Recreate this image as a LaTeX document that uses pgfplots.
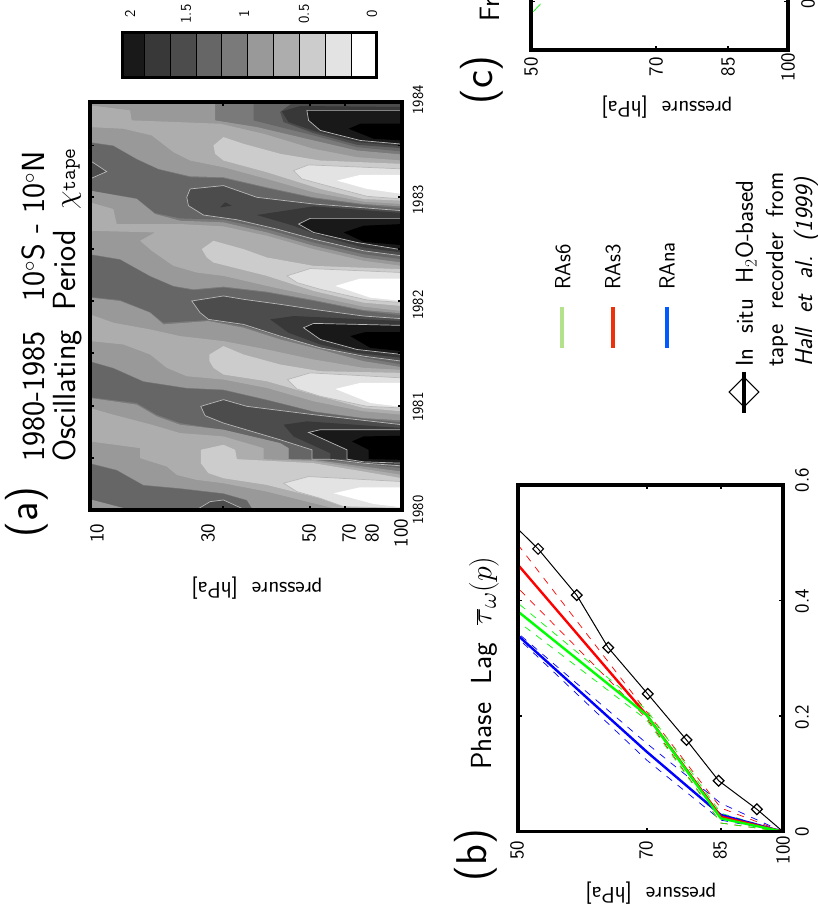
\documentclass[border=0pt]{standalone}
\usepackage{graphicx}
\usepackage{pgfplots}
\pgfplotsset{compat=1.18}
\definecolor{Lz}{gray}{0.0}
\definecolor{La}{gray}{0.1}
\definecolor{Lb}{gray}{0.22}
\definecolor{Lc}{gray}{0.3}
\definecolor{Ld}{gray}{0.4}
\definecolor{Le}{gray}{0.48}
\definecolor{Lf}{gray}{0.6}
\definecolor{Lg}{gray}{0.68}
\definecolor{Lh}{gray}{0.8}
\definecolor{Li}{gray}{0.89}
\definecolor{Lj}{gray}{1.0}
\definecolor{Cline}{gray}{0.72}
\newcommand\fs[1]{\fontsize{#1}{#1}\selectfont\sffamily}
\newcommand\lv[2]{\addplot[fill=#1,draw=none] coordinates {#2} --cycle;}
\newcommand\lc[2]{\addplot[fill=#1,draw=Cline,line width=0.7pt] coordinates {#2} --cycle;}
\pgfplotsset{
  frame/.style={scale only axis,axis line style={line width=3.5pt,black},tick align=inside,
    major tick length=4pt,every tick/.style={black,line width=1.8pt},
    clip=true,axis on top,xticklabels={},yticklabels={}},
}
\begin{document}
\begin{tikzpicture}[x=1pt,y=1pt]
\path[use as bounding box] (0,0) rectangle (817,909);
\clip (0,0) rectangle (817,909);
% ---------- panel (a)
\begin{axis}[frame,at={(90pt,399pt)},anchor=south west,width=312pt,height=408pt,
  xmin=30,xmax=965,ymin=40,ymax=1260,y dir=reverse,
  xtick={428,690,793},
  ytick={40,170,325,480,635,790,948,1105,1260},
]
\lv{Le}{(30,40)(965,40)(965,1262)(30,1262)}
% D1
\lv{Ld}{(520,40)(520,95)(600,115)(700,140)(830,175)(965,188)(965,40)}
\lv{Lc}{(600,70)(640,40)(965,40)(965,178)(830,168)(700,133)(610,100)}
\lv{Lb}{(605,68)(660,52)(965,55)(965,172)(830,160)(705,128)(625,100)}
\lc{La}{(680,65)(965,65)(965,166)(840,155)(720,125)(685,95)}
\lv{Lz}{(805,120)(840,105)(965,105)(965,155)(880,150)}
% L1
\lv{Lf}{(30,40)(405,40)(405,95)(530,115)(700,155)(830,185)(965,197)(965,352)(850,345)(700,325)(560,295)(430,265)(330,262)(235,240)(170,210)(100,170)(30,160)}
\lv{Lg}{(30,50)(150,65)(155,95)(420,105)(550,135)(700,180)(830,205)(965,215)(965,345)(850,338)(700,310)(560,270)(430,235)(330,215)(280,190)(215,140)(130,120)(30,115)}
\lv{Lh}{(400,170)(430,145)(490,165)(600,195)(720,215)(965,225)(965,335)(850,330)(720,300)(560,250)(430,215)(405,195)}
\lc{Li}{(640,245)(685,228)(965,240)(965,330)(860,322)(720,285)(665,270)}
\lv{Lj}{(770,275)(840,258)(965,258)(965,315)(860,300)}
% D2
\lv{Ld}{(30,162)(100,172)(170,212)(235,242)(330,265)(430,268)(560,298)(700,328)(850,348)(965,358)(965,510)(850,495)(700,460)(560,420)(430,392)(300,388)(225,372)(170,328)(30,305)}
\lc{Lc}{(30,215)(80,248)(30,270)}
\lc{Lc}{(330,300)(430,290)(530,325)(700,345)(965,365)(965,500)(850,485)(700,450)(590,420)(470,392)(370,378)(325,350)(320,325)}
\lv{Lb}{(420,355)(435,340)(455,350)}
\lv{Lb}{(530,378)(700,352)(965,372)(965,490)(850,475)(720,440)(640,410)}
\lc{La}{(655,405)(690,388)(965,388)(965,482)(830,460)(700,430)}
\lv{Lz}{(790,430)(850,410)(965,405)(965,468)(850,458)}
% L2
\lv{Lf}{(30,305)(170,330)(225,375)(300,395)(430,400)(560,430)(700,470)(850,505)(965,520)(965,672)(850,662)(700,632)(560,607)(430,592)(340,600)(280,590)(210,560)(120,510)(30,495)}
\lv{Lg}{(30,340)(100,360)(110,405)(300,405)(430,412)(560,440)(700,480)(850,515)(965,530)(965,665)(850,652)(700,620)(560,590)(430,560)(350,550)(280,530)(215,485)(180,455)(225,430)(30,425)}
\lv{Lh}{(365,480)(400,455)(490,480)(560,505)(700,530)(965,540)(965,650)(850,640)(700,605)(560,560)(400,520)(380,505)}
\lc{Li}{(620,560)(690,538)(965,550)(965,640)(860,632)(720,600)(650,580)}
\lv{Lj}{(765,590)(840,568)(965,568)(965,635)(870,625)}
% D3
\lv{Ld}{(30,497)(120,512)(210,562)(280,592)(340,603)(430,595)(560,610)(700,635)(850,665)(965,678)(965,825)(850,805)(720,772)(600,742)(490,710)(385,692)(250,700)(210,668)(120,632)(30,623)}
\lc{Lc}{(335,635)(430,620)(490,630)(600,645)(700,660)(850,680)(965,688)(965,815)(850,800)(720,775)(600,740)(490,705)(385,690)(360,670)}
\lv{Lb}{(570,690)(640,680)(965,695)(965,805)(830,790)(720,765)(625,730)}
\lc{La}{(670,715)(700,702)(965,708)(965,795)(830,780)(720,750)}
\lv{Lz}{(810,740)(855,728)(965,728)(965,785)(870,775)}
% L3
\lv{Lf}{(30,625)(120,635)(210,670)(250,705)(385,695)(490,715)(600,750)(720,780)(850,815)(965,833)(965,992)(850,985)(700,965)(560,930)(430,900)(320,895)(190,875)(100,835)(30,815)}
\lv{Lg}{(30,675)(100,700)(210,720)(300,740)(430,755)(560,780)(700,810)(850,835)(965,841)(965,975)(850,965)(700,935)(560,895)(430,870)(320,860)(260,835)(210,795)(130,765)(30,755)}
\lv{Lh}{(388,795)(430,770)(490,795)(600,825)(720,845)(965,850)(965,965)(850,955)(700,915)(560,875)(430,855)(400,835)(388,815)}
\lc{Li}{(622,870)(690,850)(965,865)(965,955)(860,950)(720,920)(650,898)}
\lv{Lj}{(765,898)(840,880)(965,880)(965,952)(870,940)}
% D4
\lv{Ld}{(30,817)(100,837)(190,877)(320,897)(430,902)(560,932)(700,967)(850,987)(965,998)(965,1135)(850,1122)(695,1108)(625,1108)(625,1075)(600,1060)(430,1020)(300,1000)(230,975)(170,940)(30,923)}
\lc{Lc}{(362,950)(430,930)(500,950)(700,975)(965,1005)(965,1128)(850,1120)(750,1108)(695,1108)(695,1080)(600,1050)(430,1000)(375,978)}
\lv{Lb}{(610,1005)(680,995)(965,1015)(965,1124)(850,1118)(800,1108)(750,1108)(750,1090)(640,1040)}
\lc{La}{(685,1028)(720,1020)(965,1020)(965,1120)(850,1116)(800,1108)(800,1080)}
\lv{Lz}{(815,1055)(850,1040)(965,1038)(965,1110)(865,1108)(865,1080)}
% L4
\lv{Lf}{(30,925)(170,945)(230,980)(300,1005)(430,1020)(600,1060)(625,1075)(625,1108)(700,1110)(850,1130)(965,1145)(965,1262)(520,1262)(500,1230)(430,1210)(300,1195)(190,1185)(110,1140)(30,1120)}
\lv{Lg}{(30,955)(100,975)(215,1005)(300,1030)(430,1040)(550,1075)(550,1108)(700,1114)(850,1137)(965,1155)(965,1262)(790,1262)(700,1240)(560,1205)(430,1180)(350,1170)(290,1155)(260,1130)(180,1105)(180,1075)(30,1055)}
\lv{Lh}{(362,1080)(430,1065)(465,1080)(470,1108)(700,1120)(850,1145)(965,1165)(965,1255)(850,1252)(700,1220)(560,1185)(430,1165)(385,1150)(362,1120)}
\lc{Li}{(610,1180)(685,1160)(965,1175)(965,1255)(790,1250)(720,1225)(650,1205)}
\lv{Lj}{(760,1210)(840,1192)(965,1192)(965,1252)(880,1242)}
% D5
\lv{Ld}{(30,1122)(110,1142)(190,1187)(300,1197)(430,1212)(500,1232)(520,1265)(30,1265)}
\lv{Lf}{(30,1228)(160,1262)(30,1262)}
\lc{Lc}{(345,1262)(390,1235)(430,1230)(500,1262)}
\end{axis}
% ---------- colour bar
\begin{axis}[frame,at={(122pt,831pt)},anchor=south west,width=254.7pt,height=45pt,
  xmin=121.7,xmax=376.7,ymin=0,ymax=1,ytick=\empty,xtick=\empty,
  axis line style={line width=3pt,black}]
\addplot[fill=La,draw=black,line width=1pt] coordinates {(121.7,0)(144,0)(144,1)(121.7,1)} --cycle;
\addplot[fill=Lb,draw=black,line width=1pt] coordinates {(144,0)(170,0)(170,1)(144,1)} --cycle;
\addplot[fill=Lc,draw=black,line width=1pt] coordinates {(170,0)(196,0)(196,1)(170,1)} --cycle;
\addplot[fill=Ld,draw=black,line width=1pt] coordinates {(196,0)(221.7,0)(221.7,1)(196,1)} --cycle;
\addplot[fill=Le,draw=black,line width=1pt] coordinates {(221.7,0)(247.7,0)(247.7,1)(221.7,1)} --cycle;
\addplot[fill=Lf,draw=black,line width=1pt] coordinates {(247.7,0)(273.3,0)(273.3,1)(247.7,1)} --cycle;
\addplot[fill=Lg,draw=black,line width=1pt] coordinates {(273.3,0)(299.3,0)(299.3,1)(273.3,1)} --cycle;
\addplot[fill=Lh,draw=black,line width=1pt] coordinates {(299.3,0)(325.3,0)(325.3,1)(299.3,1)} --cycle;
\addplot[fill=Li,draw=black,line width=1pt] coordinates {(325.3,0)(351,0)(351,1)(325.3,1)} --cycle;
\addplot[fill=Lj,draw=black,line width=1pt] coordinates {(351,0)(376.7,0)(376.7,1)(351,1)} --cycle;
\end{axis}
% ---------- panel (b)
\begin{axis}[frame,at={(518pt,77.3pt)},anchor=south west,width=265pt,height=346.7pt,
  xmode=log,xmin=50,xmax=100,ymin=0,ymax=0.6,
  xtick={50,70,85,100},minor x tick num=0,
  ytick={0,0.2,0.4,0.6},
  xminorticks=false]
\pgfplotsset{dsh/.style={line width=0.7pt,dash pattern=on 7pt off 7pt}}
\addplot[blue,dsh] coordinates {(100,0)(85,0.049)(70,0.153)(50,0.3435)};
\addplot[blue,dsh] coordinates {(100,0)(85,0.02)(70,0.124)(50,0.3349)};
\addplot[red,dsh] coordinates {(100,0)(85,0.041)(70,0.2078)(50,0.4965)};
\addplot[red,dsh] coordinates {(100,0)(85,0.015)(70,0.1964)(50,0.4215)};
\addplot[green,dsh] coordinates {(100,0)(85,0.032)(70,0.2108)(50,0.3955)};
\addplot[green,dsh] coordinates {(100,0)(85,0.015)(70,0.1936)(50,0.3637)};
\addplot[blue,line width=2.4pt] coordinates {(100,0)(85,0.029)(70,0.1385)(50,0.3394)};
\addplot[red,line width=2.4pt] coordinates {(100,0)(85,0.026)(70,0.202)(50,0.4618)};
\addplot[green,line width=2.4pt] coordinates {(100,0)(85,0.023)(70,0.202)(50,0.381)};
\addplot[black,line width=1pt] coordinates {(100,0)(93.4,0.0388)(84.5,0.0883)(77.7,0.1588)(70.2,0.2384)(63.3,0.3186)(58.3,0.4093)(52.7,0.4895)(50,0.5236)};
\addplot[black,only marks,mark=square,mark size=3.8pt,mark options={rotate=45,solid,line width=1.2pt}]
  coordinates {(93.4,0.0388)(84.5,0.0883)(77.7,0.1588)(70.2,0.2384)(63.3,0.3186)(58.3,0.4093)(52.7,0.4895)};
\end{axis}
% ---------- panel (c)
\begin{axis}[frame,at={(531pt,859pt)},anchor=south west,width=257pt,height=100pt,
  xmode=log,xmin=50,xmax=100,ymin=0,ymax=0.4124,
  xtick={50,70,85,100},minor x tick num=0,xminorticks=false,
  ytick={0.2}]
\addplot[green,line width=0.7pt] coordinates {(50.3,0.158)(51.3,0.19)};
\end{axis}
% ---------- text and legend, in picture coordinates
\begin{axis}[scale only axis,at={(0pt,0pt)},anchor=south west,width=817pt,height=909pt,
  xmin=0,xmax=817,ymin=0,ymax=909,y dir=reverse,hide axis,clip=false]
\addplot[color={rgb,255:red,180;green,225;blue,140},line width=4pt] coordinates {(562,307)(562,348)};
\addplot[color={rgb,255:red,235;green,50;blue,10},line width=4pt] coordinates {(613,307)(613,348)};
\addplot[color={rgb,255:red,0;green,90;blue,255},line width=4pt] coordinates {(667,307)(667,348)};
\addplot[only marks,mark=square,mark size=10.5pt,mark options={rotate=45,line width=1pt,black}] coordinates {(744,392)};
\addplot[black,line width=4pt] coordinates {(744,372)(744,413)};
\tikzset{t/.style={rotate=90,inner sep=0pt,anchor=west},
  n/.style={rotate=90,inner sep=0pt,anchor=center}}
% tick labels
\foreach \p/\l in {97/10,208/30,309/50,349/70,372/80,401/100}
  {\edef\tmp{\noexpand\node[n,font=\noexpand\fs{20}] at (axis cs:\p,533) {\l};}\tmp}
\foreach \p/\l in {510/1980,407/1981,305/1982,200/1983,100/1984}
  {\edef\tmp{\noexpand\node[n,font=\noexpand\fs{15.5}] at (axis cs:418,\p) {\l};}\tmp}
\foreach \p/\l in {130/2,186/1.5,244/1,304/0.5,372/0}
  {\edef\tmp{\noexpand\node[n,font=\noexpand\fs{15}] at (axis cs:\p,14) {\l};}\tmp}
\foreach \p/\l in {517/50,646/70,720/85,783/100}
  {\edef\tmp{\noexpand\node[n,font=\noexpand\fs{20}] at (axis cs:\p,850) {\l};}\tmp}
\foreach \p/\l in {832/0,717/0.2,601/0.4,480/0.6}
  {\edef\tmp{\noexpand\node[n,font=\noexpand\fs{20}] at (axis cs:802,\p) {\l};}\tmp}
\foreach \p/\l in {531/50,656/70,728/85,788/100}
  {\edef\tmp{\noexpand\node[n,font=\noexpand\fs{20}] at (axis cs:\p,67) {\l};}\tmp}
\node[n,font=\fs{20}] at (axis cs:808,-4) {0.2};
% legend
\node[t,font=\fs{22}] at (axis cs:563,290) {RAs6};
\node[t,font=\fs{22}] at (axis cs:613,290) {RAs3};
\node[t,font=\fs{22}] at (axis cs:667,290) {RAna};
\node[t,font=\fs{24.5}] at (axis cs:746,367) {In\ \ situ\ \ H$_2$O-based};
\node[t,font=\fs{24.5}] at (axis cs:777,367) {tape\ \ recorder\ \ from};
\node[t,font=\fs{24.5}\itshape] at (axis cs:806,367) {Hall\ \ et\ \ al.\ \ (1999)};
% axis titles
\node[rotate=180,font=\fs{22.5}] at (axis cs:257,588) {pressure\ \ [hPa]};
\node[rotate=180,font=\fs{22.5}] at (axis cs:651,893) {pressure\ \ [hPa]};
\node[rotate=180,font=\fs{22.5}] at (axis cs:667,107) {pressure\ \ [hPa]};
\node[rotate=90,font=\fs{43}] at (axis cs:27,512) {(a)};
\node[rotate=90,font=\fs{43}] at (axis cs:476,855) {(b)};
\node[rotate=90,font=\fs{43}] at (axis cs:482,80) {(c)};
\node[t,font=\fs{32}] at (axis cs:33,462) {1980-1985\ \ \ 10$^\circ$S\ -\ 10$^\circ$N};
\node[t,font=\fs{32}] at (axis cs:67,462) {Oscillating\ \ Period\ \ \scalebox{1.2}{$\chi$}\texttt{\fontsize{21}{21}\selectfont tape}};
\node[t,font=\fs{29}] at (axis cs:484,770) {Phase\ \ Lag\ \ \scalebox{1.2}{$\overline{\tau}_\omega(p)$}};
\node[t,font=\fs{28}] at (axis cs:490,22) {Fr};
\end{axis}
\end{tikzpicture}
\end{document}
